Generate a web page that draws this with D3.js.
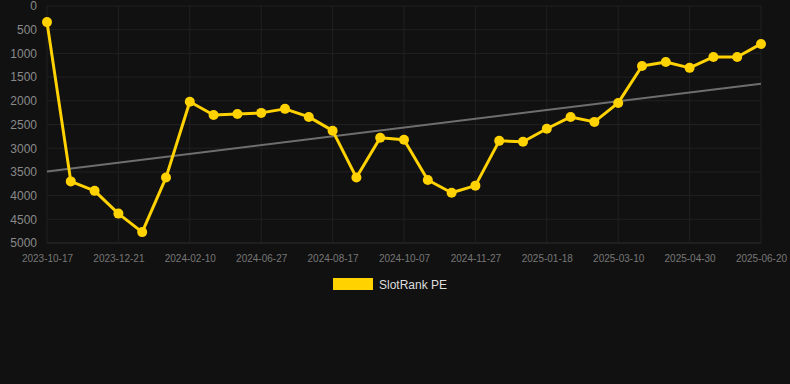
<!DOCTYPE html>
<html>
<head>
<meta charset="utf-8">
<script src="https://cdn.jsdelivr.net/npm/d3@7"></script>
<style>
html,body{margin:0;padding:0;background:#111111;}
svg{display:block;}
</style>
</head>
<body>
<svg id="chart" width="790" height="384"></svg>
<script>
const dates = ["2023-10-17","2023-11-08","2023-11-29","2023-12-21","2024-01-11","2024-01-26","2024-02-10","2024-03-25","2024-05-10","2024-06-27","2024-07-14","2024-07-31","2024-08-17","2024-09-03","2024-09-20","2024-10-07","2024-10-24","2024-11-10","2024-11-27","2024-12-14","2025-01-01","2025-01-18","2025-02-04","2025-02-21","2025-03-10","2025-03-27","2025-04-13","2025-04-30","2025-05-17","2025-06-03","2025-06-20"];
const values = [340,3700,3900,4380,4770,3620,2020,2300,2280,2255,2170,2340,2630,3620,2780,2820,3670,3940,3790,2845,2865,2590,2340,2445,2045,1265,1180,1305,1075,1075,800];
const trendValues = [3490,1640];
const yTicks = [0,500,1000,1500,2000,2500,3000,3500,4000,4500,5000];
const seriesName = "SlotRank PE";

const svg = d3.select("#chart");
const plotLeft = 47, plotRight = 761, plotTop = 6, plotBottom = 243;

const x = d3.scalePoint().domain(dates).range([plotLeft, plotRight]);
const y = d3.scaleLinear().domain([0, 5000]).range([plotTop, plotBottom]);

const labelDates = dates.filter((d,i) => i % 3 === 0);

// grid
const g = svg.append("g");
g.selectAll("line.h").data(yTicks).enter().append("line")
  .attr("x1", plotLeft).attr("x2", plotRight)
  .attr("y1", d => y(d)).attr("y2", d => y(d))
  .attr("stroke", d => d === 5000 ? "#2e2e2e" : "#212121").attr("stroke-width", 1);
g.selectAll("line.v").data(labelDates).enter().append("line")
  .attr("x1", d => x(d)).attr("x2", d => x(d))
  .attr("y1", plotTop).attr("y2", plotBottom)
  .attr("stroke", "#212121").attr("stroke-width", 1);

// y axis
const yAxis = d3.axisLeft(y).tickValues(yTicks).tickSize(0).tickPadding(0).tickFormat(d3.format("d"));
const ya = svg.append("g").attr("transform", "translate(37,0)").call(yAxis);
ya.select(".domain").remove();
ya.selectAll("text").attr("fill", "#8a8a8a").attr("font-size", 12).attr("font-family", "Arial, 'Liberation Sans', sans-serif");

// x axis
const xAxis = d3.axisBottom(x).tickValues(labelDates).tickSize(0).tickPadding(0);
const xa = svg.append("g").attr("transform", "translate(0,255)").call(xAxis);
xa.select(".domain").remove();
xa.selectAll("text").attr("fill", "#777777").attr("font-size", 10).attr("font-family", "Arial, 'Liberation Sans', sans-serif");

// trend line
svg.append("line")
  .attr("x1", x(dates[0])).attr("y1", y(trendValues[0]))
  .attr("x2", x(dates[dates.length-1])).attr("y2", y(trendValues[1]))
  .attr("stroke", "#6e6e6e").attr("stroke-width", 2);

// series line
const line = d3.line().x((d,i) => x(dates[i])).y(d => y(d));
svg.append("path").datum(values)
  .attr("d", line).attr("fill", "none")
  .attr("stroke", "#FFD200").attr("stroke-width", 3).attr("stroke-linejoin", "round");

svg.selectAll("circle.pt").data(values).enter().append("circle")
  .attr("cx", (d,i) => x(dates[i])).attr("cy", d => y(d))
  .attr("r", 5).attr("fill", "#FFD200");

// legend
svg.append("rect").attr("x", 333).attr("y", 278).attr("width", 40).attr("height", 12).attr("fill", "#FFD200");
svg.append("text").attr("x", 379).attr("y", 289)
  .attr("fill", "#dddddd").attr("font-size", 12).attr("font-family", "Arial, 'Liberation Sans', sans-serif")
  .text(seriesName);
</script>
</body>
</html>
